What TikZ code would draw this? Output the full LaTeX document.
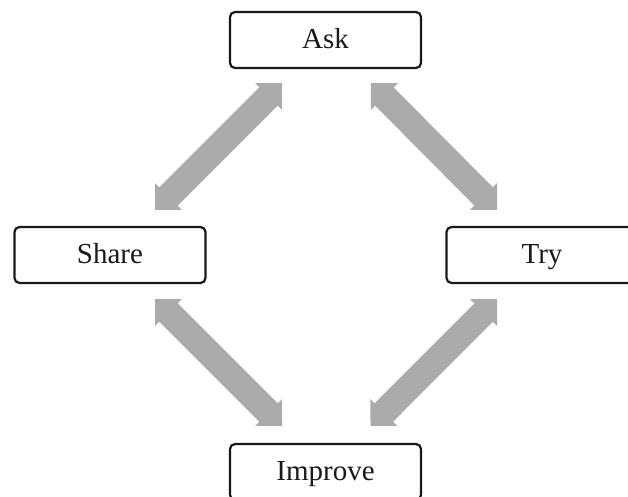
\documentclass[tikz,border=0pt]{standalone}
\usepackage{fontspec}
\setmainfont{Liberation Serif}
\usetikzlibrary{calc}
\definecolor{arrowgray}{RGB}{171,171,171}
\definecolor{boxline}{RGB}{25,25,25}
\newcommand\dblarrow[2]{%
  \coordinate (ha) at ($(#1)!19pt!(#2)$);
  \coordinate (hb) at ($(#2)!19pt!(#1)$);
  \fill[bigarrow] (#1)
    -- ($(ha)!19pt!90:(#1)$) -- ($(ha)!13pt!90:(#1)$)
    -- ($(hb)!13pt!-90:(#2)$) -- ($(hb)!19pt!-90:(#2)$)
    -- (#2)
    -- ($(hb)!19pt!90:(#2)$) -- ($(hb)!13pt!90:(#2)$)
    -- ($(ha)!13pt!-90:(#1)$) -- ($(ha)!19pt!-90:(#1)$)
    -- cycle;}
\begin{document}
\begin{tikzpicture}[x=1pt,y=-1pt,
  stepbox/.style={draw=boxline, line width=2.2pt, rounded corners=5pt,
    minimum width=191pt, minimum height=56pt, inner sep=0pt,
    text height=20pt, text depth=3.4pt, text=boxline,
    font=\fontsize{29}{34}\selectfont},
  bigarrow/.style={fill=arrowgray}]
\clip (0,0) rectangle (628,496);
\node[stepbox] (ask) at (325.5,40) {Ask};
\node[stepbox] (share) at (110,255) {Share};
\node[stepbox] (try) at (542,255) {Try};
\node[stepbox] (improve) at (325.5,472) {Improve};
% arrow ends
\coordinate (a1a) at ($(ask.south)+(-43.5,14)$);
\coordinate (a1b) at ($(share.north)+(45,-16)$);
\coordinate (a2a) at ($(ask.south)+(45.5,14)$);
\coordinate (a2b) at ($(try.north)+(-45,-16)$);
\coordinate (a3a) at ($(share.south)+(45,15)$);
\coordinate (a3b) at ($(improve.north)+(-43.5,-17)$);
\coordinate (a4a) at ($(try.south)+(-45,15)$);
\coordinate (a4b) at ($(improve.north)+(45,-17)$);
\dblarrow{a1a}{a1b}
\dblarrow{a2a}{a2b}
\dblarrow{a3a}{a3b}
\dblarrow{a4a}{a4b}
\end{tikzpicture}
\end{document}
